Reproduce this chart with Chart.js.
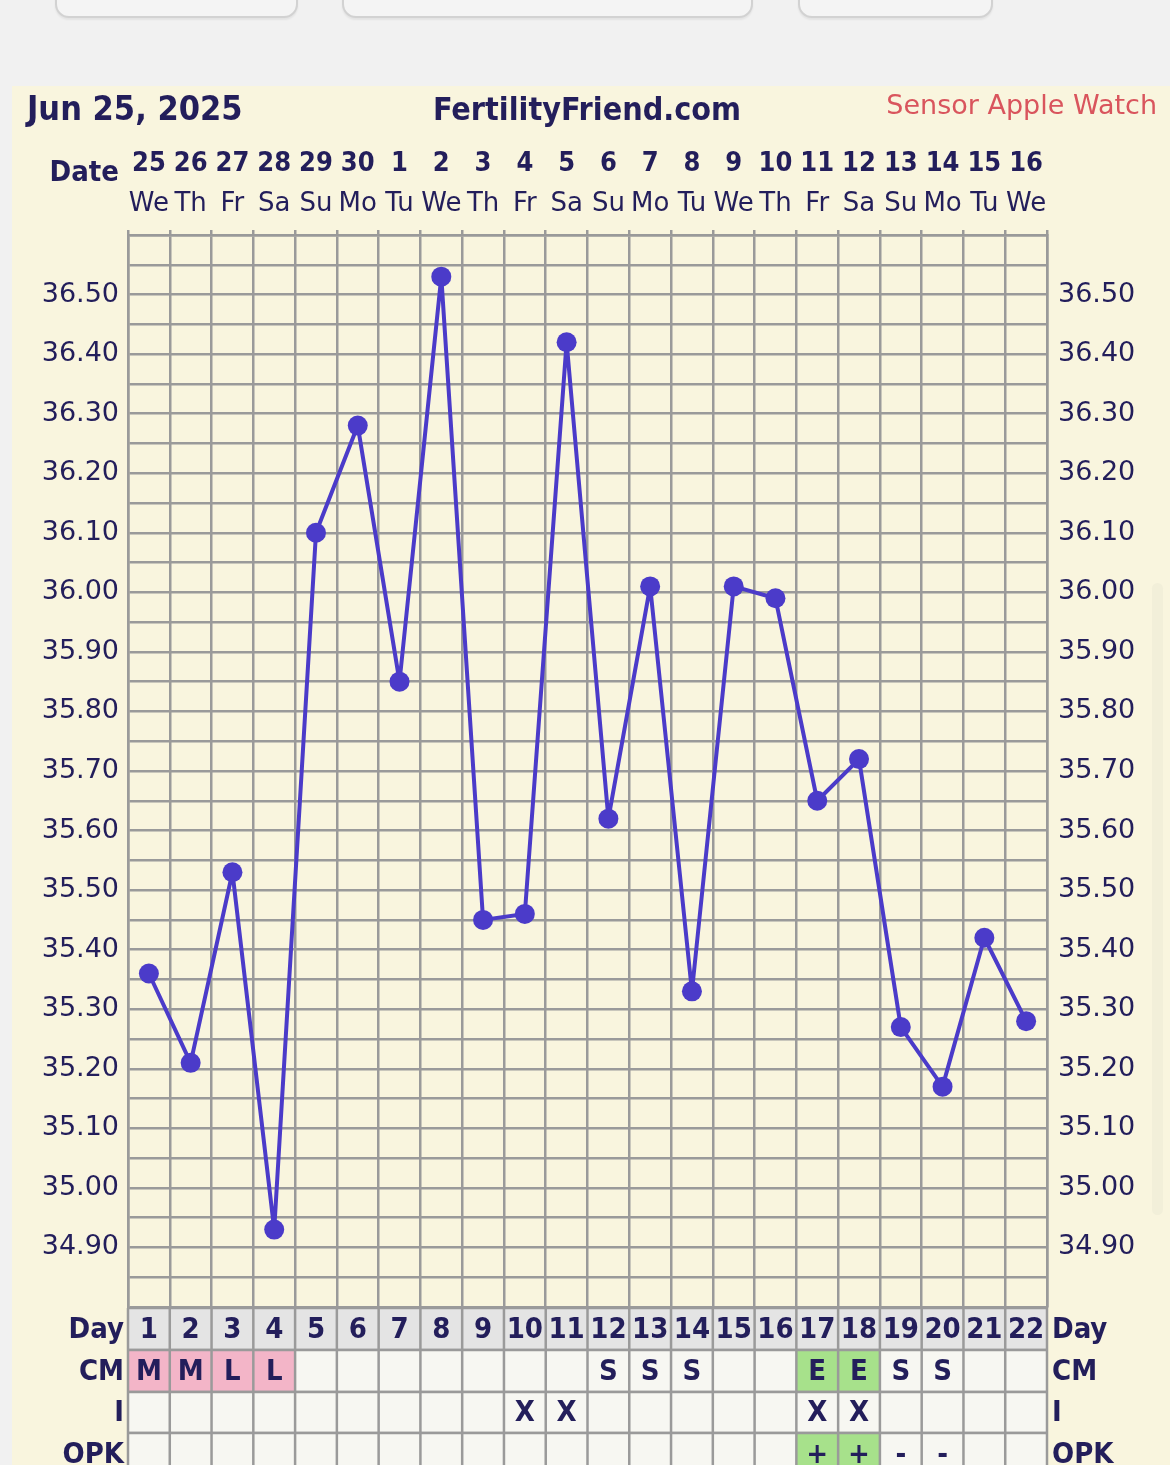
<!DOCTYPE html>
<html>
<head>
<meta charset="utf-8">
<script src="https://cdn.jsdelivr.net/npm/chart.js@4.4.1/dist/chart.umd.min.js"></script>
<style>
  html, body { margin: 0; padding: 0; background: #f1f1f1; width: 1170px; height: 1465px; overflow: hidden; }
  .tab { position: absolute; top: -22px; height: 36px; border: 2px solid #d2d2d2; border-radius: 14px; background: #f4f4f4; box-shadow: 0 2px 2px rgba(0,0,0,0.06); }
  #panel { position: absolute; left: 12px; top: 86px; width: 1158px; height: 1400px; background: #f9f5de; }
  #scroll { position: absolute; left: 1152px; top: 583px; width: 11px; height: 632px; background: #f2efd9; border-radius: 6px; }
  canvas { position: absolute; left: 0; top: 0; }
</style>
</head>
<body>
<div class="tab" style="left:55px;width:239px"></div>
<div class="tab" style="left:342px;width:407px"></div>
<div class="tab" style="left:798px;width:191px"></div>
<div id="panel"></div>
<div id="scroll"></div>
<canvas id="chart-bbt" width="1170" height="1465"></canvas>
<script>
// ── Data ───────────────────────────────────────────────────────────────────
const TITLE_DATE = "Jun 25, 2025";
const SITE = "FertilityFriend.com";
const SENSOR = "Sensor Apple Watch";

const DATES = ["25", "26", "27", "28", "29", "30", "1", "2", "3", "4", "5",
  "6", "7", "8", "9", "10", "11", "12", "13", "14", "15", "16"];
const WEEKDAYS = ["We", "Th", "Fr", "Sa", "Su", "Mo", "Tu", "We", "Th", "Fr", "Sa",
  "Su", "Mo", "Tu", "We", "Th", "Fr", "Sa", "Su", "Mo", "Tu", "We"];
const CYCLE_DAYS = ["1", "2", "3", "4", "5", "6", "7", "8", "9", "10", "11",
  "12", "13", "14", "15", "16", "17", "18", "19", "20", "21", "22"];
const TEMPS = [35.36, 35.21, 35.53, 34.93, 36.10, 36.28, 35.85, 36.53, 35.45, 35.46, 36.42,
  35.62, 36.01, 35.33, 36.01, 35.99, 35.65, 35.72, 35.27, 35.17, 35.42, 35.28];
const CM = ["M", "M", "L", "L", "", "", "", "", "", "", "",
  "S", "S", "S", "", "", "E", "E", "S", "S", "", ""];
const INTERCOURSE = ["", "", "", "", "", "", "", "", "", "X", "X",
  "", "", "", "", "", "X", "X", "", "", "", ""];
const OPK = ["", "", "", "", "", "", "", "", "", "", "",
  "", "", "", "", "", "+", "+", "-", "-", "", ""];
const Y_MIN = 34.8;
const Y_MAX = 36.6;
const Y_STEP = 0.05;

// ── Styles ─────────────────────────────────────────────────────────────────
const NAVY = "#231e5b";
const GRID = "#9a9a9a";
const LINE = "#4b3bc9";
const CELL_BG = "#f7f7f2";
const DAY_BG = "#e4e4e4";
const PINK = "#f3b5c8";
const GREEN = "#a7e18b";
const CM_FILL = { M: PINK, L: PINK, E: GREEN };
const OPK_FILL = { "+": GREEN };
const BOLD = '"DejaVu Sans Condensed", "DejaVu Sans", sans-serif';
const REG = '"DejaVu Sans", sans-serif';

function tempLabel(v) {
  const c = Math.round(v * 100);
  if (c % 10 !== 0 || c === Math.round(Y_MIN * 100) || c === Math.round(Y_MAX * 100)) return "";
  return (c / 100).toFixed(2);
}

// header rows, bottom table
const chartText = {
  id: "chartText",
  afterDraw(chart) {
    const ctx = chart.ctx;
    const xs = chart.scales.x;
    const area = chart.chartArea;
    const n = DATES.length;
    const w = (xs.right - xs.left) / n;
    ctx.save();

    ctx.fillStyle = NAVY;
    ctx.textBaseline = "alphabetic";
    ctx.font = "bold 34px " + BOLD;
    ctx.textAlign = "left";
    ctx.fillText(TITLE_DATE, 27, 120);
    ctx.font = "bold 32px " + BOLD;
    ctx.textAlign = "center";
    ctx.fillText(SITE, 587, 120);
    ctx.fillStyle = "#d9555d";
    ctx.font = "27px " + REG;
    ctx.textAlign = "right";
    ctx.fillText(SENSOR, 1157, 114);

    ctx.fillStyle = NAVY;
    ctx.font = "bold 29px " + BOLD;
    ctx.fillText("Date", 119, 181);
    for (let i = 0; i < n; i++) {
      const cx = xs.getPixelForValue(i);
      ctx.textAlign = "center";
      ctx.font = "bold 27px " + BOLD;
      ctx.fillText(DATES[i], cx, 171);
      ctx.font = "26px " + REG;
      ctx.fillText(WEEKDAYS[i], cx, 211);
    }

    const rows = [
      { label: "Day", vals: CYCLE_DAYS, fill: () => DAY_BG, h: 42 },
      { label: "CM", vals: CM, fill: (v) => CM_FILL[v] || CELL_BG, h: 42 },
      { label: "I", vals: INTERCOURSE, fill: () => CELL_BG, h: 41 },
      { label: "OPK", vals: OPK, fill: (v) => OPK_FILL[v] || CELL_BG, h: 42 },
    ];
    let top = area.bottom + 1;
    ctx.lineWidth = 2.5;
    ctx.strokeStyle = GRID;
    rows.forEach((row) => {
      for (let i = 0; i < n; i++) {
        const left = xs.left + i * w;
        ctx.fillStyle = row.fill(row.vals[i]);
        ctx.fillRect(left, top, w, row.h);
      }
      ctx.beginPath();
      for (let i = 0; i <= n; i++) {
        const gx = xs.left + i * w;
        ctx.moveTo(gx, top);
        ctx.lineTo(gx, top + row.h);
      }
      ctx.moveTo(xs.left, top);
      ctx.lineTo(xs.right, top);
      ctx.moveTo(xs.left, top + row.h);
      ctx.lineTo(xs.right, top + row.h);
      ctx.stroke();

      ctx.fillStyle = NAVY;
      ctx.textBaseline = "middle";
      ctx.font = "bold 29px " + BOLD;
      for (let i = 0; i < n; i++) {
        if (!row.vals[i]) continue;
        ctx.textAlign = "center";
        ctx.fillText(row.vals[i], xs.getPixelForValue(i), top + row.h / 2 + 1);
      }
      ctx.textAlign = "right";
      ctx.fillText(row.label, 124, top + row.h / 2 + 1);
      ctx.textAlign = "left";
      ctx.fillText(row.label, 1052, top + row.h / 2 + 1);
      top += row.h;
    });
    ctx.restore();
  },
};

new Chart(document.getElementById("chart-bbt"), {
  type: "line",
  data: {
    labels: CYCLE_DAYS,
    datasets: [
      {
        label: "Temperature",
        data: TEMPS,
        borderColor: LINE,
        backgroundColor: LINE,
        borderWidth: 4,
        borderJoinStyle: "round",
        pointRadius: 10,
        pointBackgroundColor: LINE,
        pointBorderWidth: 0,
        tension: 0,
        yAxisID: "y",
      },
    ],
  },
  options: {
    responsive: false,
    animation: false,
    devicePixelRatio: 1,
    layout: { padding: { top: 230, bottom: 158, left: 0, right: 0 } },
    plugins: { legend: { display: false }, tooltip: { enabled: false } },
    scales: {
      x: {
        type: "category",
        position: "top",
        offset: true,
        grid: { offset: true, color: GRID, lineWidth: 2.5, tickLength: 5, drawTicks: true },
        border: { display: true, color: GRID, width: 2.5 },
        ticks: { display: false },
        afterFit: (s) => { s.height = 5; },
      },
      y: {
        position: "left",
        min: Y_MIN,
        max: Y_MAX,
        grid: { color: GRID, lineWidth: 2.5, drawTicks: false },
        border: { display: true, color: GRID, width: 2.5 },
        ticks: {
          stepSize: Y_STEP,
          autoSkip: false,
          padding: 9,
          color: NAVY,
          font: { family: REG, size: 27 },
          callback: tempLabel,
        },
        afterFit: (s) => { s.width = 128; },
      },
      y2: {
        position: "right",
        min: Y_MIN,
        max: Y_MAX,
        grid: { drawOnChartArea: false, drawTicks: false },
        border: { display: true, color: GRID, width: 2.5 },
        ticks: {
          stepSize: Y_STEP,
          autoSkip: false,
          padding: 11,
          color: NAVY,
          font: { family: REG, size: 27 },
          callback: tempLabel,
        },
        afterFit: (s) => { s.width = 123; },
      },
    },
  },
  plugins: [chartText],
});
</script>
</body>
</html>
